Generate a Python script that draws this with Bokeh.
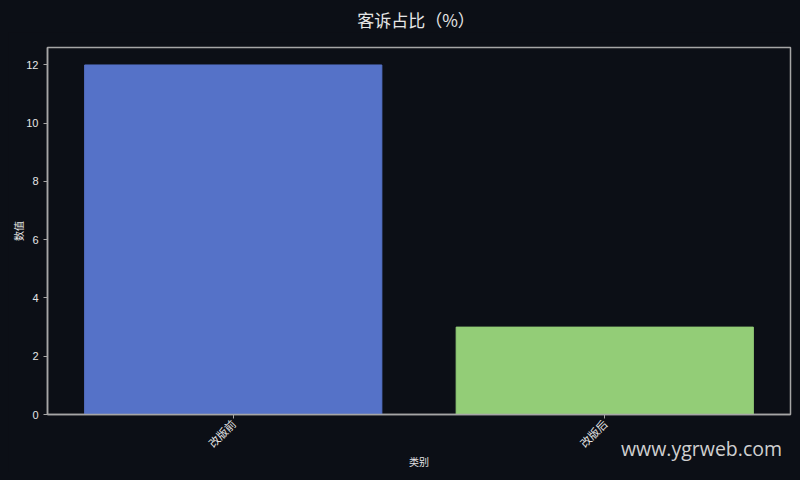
import math
from bokeh.plotting import figure
from bokeh.models import FactorRange, Range1d, ColumnDataSource, FixedTicker, Div
from bokeh.layouts import column
from bokeh.embed import file_html
from bokeh.resources import INLINE

title_text = "客诉占比（%）"
categories = ["改版前", "改版后"]
values = [12, 3]
colors = ["#5572c8", "#93cd77"]
y_ticks = [0, 2, 4, 6, 8, 10, 12]

BG = "#0c0f16"
TXT = "#e6e6e6"
AX = "#a6a6a6"
CJK = "Noto Sans CJK SC"

src = ColumnDataSource(dict(cat=categories, val=values, color=colors))

fig = figure(width=784, height=440, output_backend="svg", toolbar_location=None,
             x_range=FactorRange(*categories, range_padding=0.0),
             y_range=Range1d(0, 12.6),
             min_border_left=38, min_border_right=2, min_border_top=15, min_border_bottom=50)

fig.vbar(x="cat", top="val", width=0.8, fill_color="color", line_color="color", source=src)

fig.background_fill_color = BG
fig.border_fill_color = BG
fig.outline_line_color = AX
fig.outline_line_width = 1.5
fig.grid.visible = False

for ax in (fig.xaxis[0], fig.yaxis[0]):
    ax.axis_line_color = AX
    ax.axis_line_width = 1.5
    ax.major_tick_line_color = AX
    ax.major_tick_out = 4
    ax.major_tick_in = 0
    ax.minor_tick_line_color = None
    ax.major_label_text_color = TXT
    ax.major_label_text_font = CJK
    ax.major_label_text_font_size = "11px"
    ax.axis_label_text_color = TXT
    ax.axis_label_text_font = CJK
    ax.axis_label_text_font_size = "10px"
    ax.axis_label_text_font_style = "normal"

fig.yaxis[0].ticker = FixedTicker(ticks=y_ticks)
fig.yaxis[0].major_label_text_font = "Liberation Sans"
fig.yaxis[0].major_label_text_font_size = "11px"
fig.yaxis[0].axis_label = "数值"
fig.yaxis[0].major_label_standoff = 5
fig.yaxis[0].axis_label_standoff = -3
fig.xaxis[0].axis_label = "类别"
fig.xaxis[0].major_label_orientation = math.pi / 4
fig.xaxis[0].major_label_standoff = 3
fig.xaxis[0].axis_label_standoff = -5

title = Div(text=title_text, width=740, height=24, margin=(0, 0, 0, 38),
            styles={"color": TXT, "font-family": CJK, "font-size": "17px",
                    "line-height": "24px", "text-align": "center",
                    "white-space": "nowrap"})

watermark = Div(text="www.ygrweb.com", width=170, height=28,
                margin=(-37, 0, 0, 613),
                styles={"color": "#d0d0d0", "font-family": "Open Sans",
                        "font-size": "19.5px", "line-height": "28px",
                        "white-space": "nowrap"})

p = column(title, fig, watermark, spacing=0, styles={"background": BG})

html = file_html(p, INLINE)
css = ("<style>html,body{background:%s;margin:0;overflow:hidden;}"
       "body{padding:8px;}</style></head>" % BG)
html = html.replace("</head>", css, 1)
open("out.html", "w").write(html)
